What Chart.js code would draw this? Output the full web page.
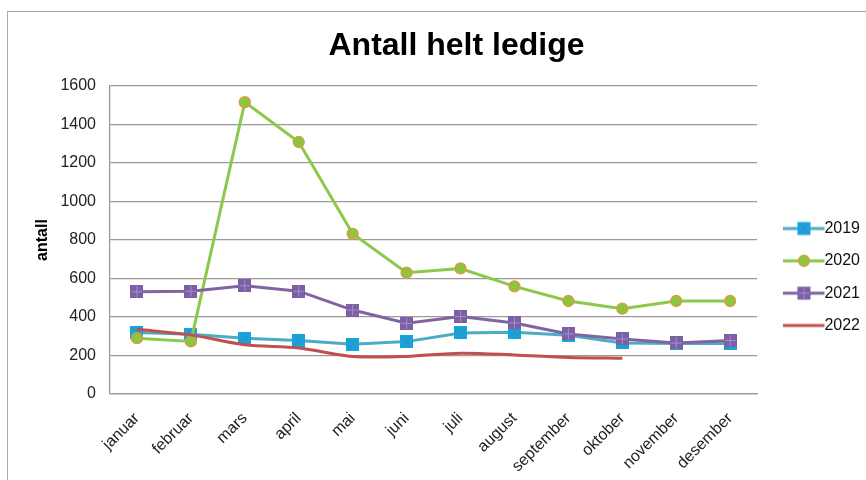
<!DOCTYPE html>
<html>
<head>
<meta charset="utf-8">
<script src="https://cdn.jsdelivr.net/npm/chart.js@4.4.1/dist/chart.umd.min.js"></script>
<style>
html, body { margin: 0; padding: 0; background: #fff; }
#wrap { position: relative; width: 866px; height: 480px; overflow: hidden; }
#frame { position: absolute; left: 7px; top: 11px; width: 900px; height: 520px; border: 1.5px solid #a8a8a8; }
#chart { position: absolute; left: 0; top: 0; }
</style>
</head>
<body>
<div id="wrap">
    <div id="frame"></div>
    <canvas id="chart" width="866" height="480"></canvas>
</div>
<script>
const months = ['januar', 'februar', 'mars', 'april', 'mai', 'juni', 'juli', 'august', 'september', 'oktober', 'november', 'desember'];
const years = ['2019', '2020', '2021', '2022'];
const values2019 = [320, 310, 290, 278, 258, 272, 317, 321, 305, 265, 262, 262];
const values2020 = [290, 273, 1516, 1309, 832, 630, 652, 559, 483, 443, 483, 483];
const values2021 = [531, 534, 562, 534, 436, 367, 403, 369, 312, 286, 265, 278];
const values2022 = [336, 307, 256, 239, 195, 195, 212, 203, 190, 186, null, null];
const yTicks = { min: 0, max: 1600, step: 200 };

const font = "'Liberation Sans', Arial, Helvetica, sans-serif";

// small canvases used as point styles (square with a cross drawn inside)
function squareMarker(fill, markColor, kind) {
    let c = document.createElement('canvas');
    c.width = 13;
    c.height = 13;
    let g = c.getContext('2d');
    drawSquare(g, 6.5, 6.5, fill, markColor, kind);
    return c;
}

function drawSquare(g, cx, cy, fill, markColor, kind) {
    g.fillStyle = fill;
    g.fillRect(cx - 6.5, cy - 6.5, 13, 13);
    g.strokeStyle = markColor;
    g.lineWidth = 1;
    g.beginPath();
    if (kind === 'x') {
        g.moveTo(cx - 3.5, cy - 4.5); g.lineTo(cx + 3.5, cy + 4.5);
        g.moveTo(cx + 3.5, cy - 4.5); g.lineTo(cx - 3.5, cy + 4.5);
    } else {
        g.moveTo(cx, cy - 5.5); g.lineTo(cx, cy + 5.5);
        g.moveTo(cx - 5.5, cy); g.lineTo(cx + 5.5, cy);
    }
    g.stroke();
}

// legend icon: line with the marker in its middle
function legendIcon(lineColor, marker) {
    let c = document.createElement('canvas');
    c.width = 60;
    c.height = 16;
    let g = c.getContext('2d');
    g.strokeStyle = lineColor;
    g.lineWidth = 3;
    g.beginPath();
    g.moveTo(18, 8);
    g.lineTo(59.5, 8);
    g.stroke();
    if (marker) {
        marker(g, 39, 8);
    }
    return c;
}

const colors = {
    line2019: '#4bacc6', fill2019: '#16a4dd', mark2019: '#4a86b0',
    line2020: '#8cc84b', fill2020: '#8cc63f', border2020: '#e3954b',
    line2021: '#8064a2', fill2021: '#7d5fa6', mark2021: '#a291c9',
    line2022: '#c0504d'
};

const marker2019 = squareMarker(colors.fill2019, colors.mark2019, 'x');
const marker2021 = squareMarker(colors.fill2021, colors.mark2021, '+');

const legendIcons = [
    legendIcon(colors.line2019, (g, x, y) => drawSquare(g, x, y, colors.fill2019, colors.mark2019, 'x')),
    legendIcon(colors.line2020, (g, x, y) => {
        g.beginPath();
        g.arc(x, y, 5.5, 0, Math.PI * 2);
        g.fillStyle = colors.fill2020;
        g.fill();
        g.lineWidth = 1.3;
        g.strokeStyle = colors.border2020;
        g.stroke();
    }),
    legendIcon(colors.line2021, (g, x, y) => drawSquare(g, x, y, colors.fill2021, colors.mark2021, '+')),
    legendIcon(colors.line2022, null)
];

const ctx = document.getElementById('chart').getContext('2d');
const chart = new Chart(ctx, {
    type: 'line',
    data: {
        labels: months,
        datasets: [{
            label: years[0],
            data: values2019,
            borderColor: colors.line2019,
            borderWidth: 3,
            pointStyle: marker2019,
            tension: 0,
            order: 3
        }, {
            label: years[1],
            data: values2020,
            borderColor: colors.line2020,
            borderWidth: 3,
            pointStyle: 'circle',
            pointRadius: 5.5,
            pointBackgroundColor: colors.fill2020,
            pointBorderColor: colors.border2020,
            pointBorderWidth: 1.3,
            tension: 0,
            order: 2
        }, {
            label: years[2],
            data: values2021,
            borderColor: colors.line2021,
            borderWidth: 3,
            pointStyle: marker2021,
            tension: 0,
            order: 1
        }, {
            label: years[3],
            data: values2022,
            borderColor: colors.line2022,
            borderWidth: 3,
            pointRadius: 0,
            tension: 0.3,
            order: 0
        }]
    },
    options: {
        responsive: false,
        animation: false,
        layout: {
            // left padding is large so the chart title sits right of centre,
            // the y title pulls back with a negative padding
            padding: { left: 43, right: -4, top: 17, bottom: -3 }
        },
        plugins: {
            title: {
                display: true,
                text: 'Antall helt ledige',
                color: '#000',
                font: { family: font, size: 32, weight: 'bold' },
                padding: { top: 10, bottom: 20.6 }
            },
            legend: {
                position: 'right',
                align: 'center',
                title: {
                    display: true,
                    text: '',
                    font: { size: 10, lineHeight: 1 },
                    padding: { top: 44, bottom: 0 }
                },
                labels: {
                    usePointStyle: true,
                    pointStyleWidth: 43,
                    padding: 16.3,
                    color: '#111',
                    font: { family: font, size: 16 },
                    generateLabels: (chart) => chart.data.datasets.map((ds, i) => ({
                        text: ds.label,
                        pointStyle: legendIcons[i],
                        fontColor: '#111',
                        fillStyle: 'transparent',
                        strokeStyle: 'transparent',
                        lineWidth: 0,
                        hidden: false,
                        datasetIndex: i
                    }))
                }
            },
            tooltip: { enabled: false }
        },
        scales: {
            x: {
                offset: true,
                grid: { display: false },
                border: { color: '#9a9a9a', width: 1.3 },
                ticks: {
                    minRotation: 45,
                    maxRotation: 45,
                    padding: 7,
                    color: '#222',
                    font: { family: font, size: 16 }
                }
            },
            y: {
                min: yTicks.min,
                max: yTicks.max,
                ticks: {
                    stepSize: yTicks.step,
                    padding: 14,
                    color: '#222',
                    font: { family: font, size: 16 },
                    callback: (v) => String(v)
                },
                grid: { color: '#9a9a9a', lineWidth: 1.3, drawTicks: false },
                border: { color: '#9a9a9a', width: 1.3 },
                title: {
                    display: true,
                    text: 'antall',
                    color: '#000',
                    font: { family: font, size: 16, weight: 'bold' },
                    padding: { top: -10, bottom: -5.8 }
                }
            }
        }
    }
});
</script>
</body>
</html>
